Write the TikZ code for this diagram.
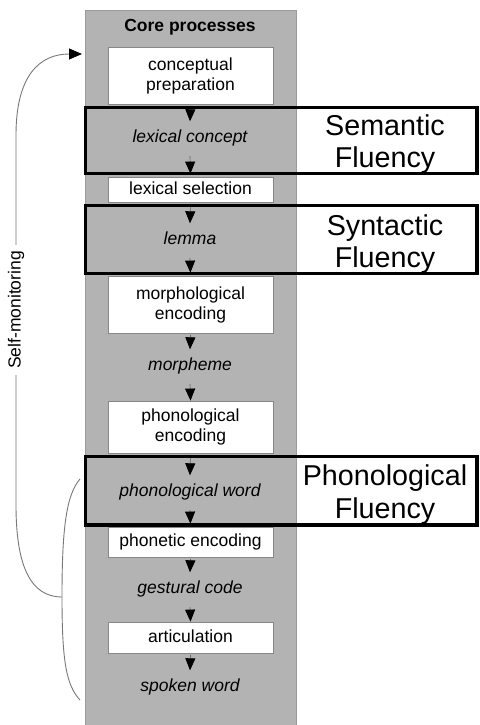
\documentclass[tikz,border=0pt]{standalone}
\usepackage{fontspec}
\setmainfont{Liberation Sans}
\usetikzlibrary{arrows.meta}
\definecolor{colgray}{RGB}{179,179,179}
\definecolor{colborder}{RGB}{155,155,155}
\definecolor{boxborder}{RGB}{135,135,135}
\definecolor{stemgray}{RGB}{100,100,100}
\definecolor{curvegray}{RGB}{120,120,120}
\newcommand\procfont{\fontsize{17.5}{20}\selectfont}
\newcommand\fluencyfont{\fontsize{28.7}{32}\selectfont}
\tikzset{
  proc/.style={draw=boxborder, fill=white, line width=0.8pt, minimum width=165pt,
    inner sep=0pt, font=\procfont, align=center},
  repr/.style={font=\procfont\itshape, minimum height=33pt, inner sep=0pt,
    text height=13pt, text depth=4pt},
  flow/.style={draw=stemgray, line width=0.7pt, shorten <=1.5pt,
    -{Triangle[width=10pt,length=12pt,color=black]}},
  fluframe/.style={draw=black, line width=3.5pt},
  flulabel/.style={font=\fluencyfont, anchor=base, inner sep=0pt},
  monitor/.style={draw=curvegray, line width=0.9pt}
}
\begin{document}
\begin{tikzpicture}[x=1pt,y=-1pt]
\useasboundingbox (0,0) rectangle (479,725);
% core column
\draw[fill=colgray, draw=colborder, line width=0.8pt] (85,10) rectangle (296,735);
\node[font=\procfont\bfseries, inner sep=0pt, text height=13pt, text depth=4pt] (core) at (190,27) {Core processes};
% processes and representations
\node[proc, minimum height=57pt] (prep) at (190.5,75.5) {conceptual\\preparation};
\node[repr] (lexcon) at (190,138) {lexical concept};
\node[proc, minimum height=25pt, text height=13pt, text depth=4pt] (lexsel) at (190.5,189.5) {lexical selection};
\node[repr] (lemma) at (190,240) {lemma};
\node[proc, minimum height=57pt] (morph) at (190.5,304.5) {morphological\\encoding};
\node[repr] (morpheme) at (190,366) {morpheme};
\node[proc, minimum height=52pt] (phonenc) at (190.5,427) {phonological\\encoding};
\node[repr] (phonword) at (190,492) {phonological word};
\node[proc, minimum height=30pt, text height=13pt, text depth=4pt] (phonetic) at (190.5,542) {phonetic encoding};
\node[repr] (gestural) at (190,589) {gestural code};
\node[proc, minimum height=31pt, text height=13pt, text depth=4pt] (artic) at (190.5,637.5) {articulation};
\node[repr] (spoken) at (190,687) {spoken word};
% flow arrows
\draw[flow] (prep.south) -- (lexcon.north);
\draw[flow, shorten >=3pt] (lexcon.south) -- (lexsel.north);
\draw[flow] (lexsel.south) -- (lemma.north);
\draw[flow, shorten >=3pt] (lemma.south) -- (morph.north);
\draw[flow] (morph.south) -- (morpheme.north);
\draw[flow] (morpheme.south) -- (phonenc.north);
\draw[flow] (phonenc.south) -- (phonword.north);
\draw[flow, shorten >=3pt] (phonword.south) -- (phonetic.north);
\draw[flow] (phonetic.south) -- (gestural.north);
\draw[flow] (gestural.south) -- (artic.north);
\draw[flow] (artic.south) -- (spoken.north);
% fluency frames
\draw[fluframe] (85.5,107.5) rectangle (477,173.5);
\draw[fluframe] (85.5,205.5) rectangle (477,273.5);
\draw[fluframe] (85.5,456.5) rectangle (477,525);
\node[flulabel] (sem1) at (385,135) {Semantic};
\node[flulabel] (sem2) at (385,167) {Fluency};
\node[flulabel] (syn1) at (385,235) {Syntactic};
\node[flulabel] (syn2) at (385,267) {Fluency};
\node[flulabel] (pho1) at (385,485) {Phonological};
\node[flulabel] (pho2) at (385,518) {Fluency};
% self-monitoring loop
\coordinate (bmid) at (62,597);
\coordinate (smtip) at (82,54);
\draw[monitor] (80,479) .. controls (66,495) and (62,530) .. (bmid)
  .. controls (62,660) and (66,685) .. (80,700);
\draw[monitor, -{Triangle[width=11pt,length=13pt,color=black]}]
  (bmid) .. controls (30,597) and (16,565) .. (16,505)
  -- node[pos=0.527, rotate=90, fill=white, inner sep=6pt, font=\procfont] (selfmon) {Self-monitoring}
  (16,135) .. controls (16,75) and (40,54) .. (smtip);
\end{tikzpicture}
\end{document}
